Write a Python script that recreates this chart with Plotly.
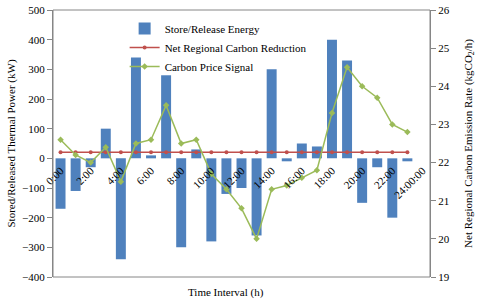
import plotly.graph_objects as go

hours = list(range(25))
tick_idx = [0, 2, 4, 6, 8, 10, 12, 14, 16, 18, 20, 22, 24]
tick_labels = ["0:00", "2:00", "4:00", "6:00", "8:00", "10:00", "12:00",
               "14:00", "16:00", "18:00", "20:00", "22:00", "24:00:00"]

store_release = [-170, -110, -30, 100, -340, 340, 10, 280, -300, 30, -280, -120,
                 -100, -260, 300, -10, 50, 40, 400, 330, -150, -30, -200, -10, None]
net_reduction = [22.27] * 24 + [None]
carbon_price = [22.6, 22.2, 22.0, 22.4, 21.5, 22.5, 22.6, 23.5, 22.5, 22.6, 21.7, 21.3,
                20.8, 20.0, 21.3, 21.4, 21.6, 21.8, 23.3, 24.5, 24.0, 23.7, 23.0, 22.8, None]

FONT = "Liberation Serif, DejaVu Serif, serif"
AX = "#868686"

fig = go.Figure()
fig.add_trace(go.Bar(x=hours, y=store_release, name="Store/Release Energy",
                     marker=dict(color="#4F81BD", line=dict(width=0)), yaxis="y"))
fig.add_trace(go.Scatter(x=hours, y=net_reduction, name="Net Regional Carbon Reduction",
                         mode="lines+markers", line=dict(color="#C0504D", width=1.5),
                         marker=dict(symbol="circle", size=4, color="#C0504D"), yaxis="y2"))
fig.add_trace(go.Scatter(x=hours, y=carbon_price, name="Carbon Price Signal",
                         mode="lines+markers", line=dict(color="#9BBB59", width=1.5),
                         marker=dict(symbol="diamond", size=5, color="#9BBB59"), yaxis="y2"))

fig.update_layout(
    width=480, height=300,
    margin=dict(l=53, r=50, t=10, b=23, autoexpand=False),
    paper_bgcolor="white", plot_bgcolor="white",
    font=dict(family=FONT, size=11, color="black"),
    bargap=0.34,
    showlegend=True,
    legend=dict(x=0.19, y=0.985, xanchor="left", yanchor="top",
                bgcolor="rgba(0,0,0,0)", font=dict(size=11, family=FONT),
                tracegroupgap=0),
    xaxis=dict(range=[-0.5, 24.5], tickmode="array", tickvals=tick_idx,
               ticktext=tick_labels, tickangle=-45, anchor="free",
               position=400 / 900, showline=False, ticks="", showgrid=False,
               zeroline=False, automargin=False, ticklabelstandoff=3,
               tickfont=dict(size=11, family=FONT)),
    yaxis=dict(range=[-400, 500], dtick=100, showgrid=False, zeroline=False,
               showline=True, linecolor=AX, ticks="outside", ticklen=5,
               tickcolor=AX, tickfont=dict(size=11, family=FONT), automargin=False,
               title=dict(text="Stored/Released Thermal Power (kW)",
                          font=dict(size=11, family=FONT), standoff=4)),
    yaxis2=dict(range=[19, 26], dtick=1, overlaying="y", side="right",
                showgrid=False, zeroline=False, showline=True, linecolor=AX,
                ticks="outside", ticklen=5, tickcolor=AX, automargin=False,
                tickfont=dict(size=11, family=FONT),
                title=dict(text="Net Regional Carbon Emission Rate (kgCO<sub>2</sub>/h)",
                           font=dict(size=11, family=FONT), standoff=15)),
    shapes=[dict(type="rect", xref="paper", yref="paper", x0=0, x1=1, y0=0, y1=1,
                 line=dict(color=AX, width=1), fillcolor="rgba(0,0,0,0)", layer="above")],
    annotations=[dict(text="Time Interval (h)", xref="paper", yref="paper",
                      x=(226 - 53) / 377, y=-(292 - 277) / 267, xanchor="center",
                      yanchor="middle", showarrow=False,
                      font=dict(size=11, family=FONT))],
)

fig.write_html("out.html", config={"displayModeBar": False},
               post_script="document.body.style.margin='0px';document.body.style.padding='0px';")
